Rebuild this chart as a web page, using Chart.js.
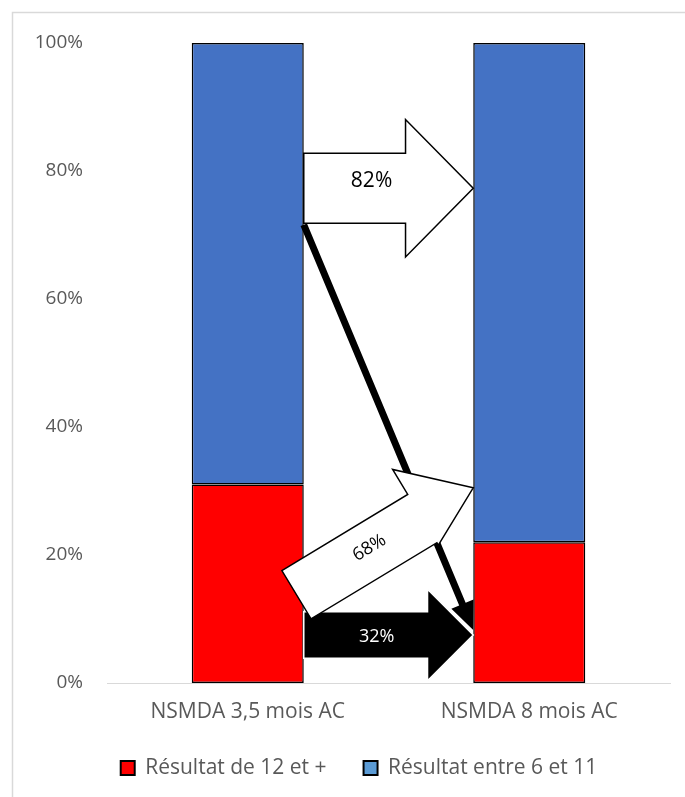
<!DOCTYPE html>
<html>
<head>
<meta charset="utf-8">
<script src="https://cdn.jsdelivr.net/npm/chart.js@4/dist/chart.umd.min.js"></script>
<style>
  html, body { margin: 0; padding: 0; background: #fff; }
  #wrap { width: 685px; height: 797px; position: relative; }
</style>
</head>
<body>
<div id="wrap"><canvas id="c"></canvas></div>
<script>
// Categories, series and tick values
const categories = ['NSMDA 3,5 mois AC', 'NSMDA 8 mois AC'];
const seriesNames = ['Résultat de 12 et +', 'Résultat entre 6 et 11'];
const score12plus = [31, 22];
const score6to11 = [69, 78];
const yTicks = [0, 20, 40, 60, 80, 100];
const transitionLabels = ['82%', '68%', '32%'];

const BAR_COLORS = ['#FF0000', '#4472C4'];
const LEGEND_COLORS = ['#FF0000', '#5B9BD5'];
const TEXT_GREY = '#595959';
const FONT = '"Open Sans", "Liberation Sans", sans-serif';
const BAR_PCT = 0.398;
const EDGE = BAR_PCT / 2;          // half bar width, in category units

// Transition arrows between the two bars, anchored in [category, %] space.
// Widths are in pixels: shaft thickness, head barbs (left / right of travel) and head length.
const arrows = [
  { from: [EDGE, 71.6], to: [1 - EDGE, 8.3], shaft: 7, headL: 12, headR: 12, headLen: 28,
    fill: '#000', stroke: null },
  { from: [EDGE, 7.5], to: [1 - EDGE, 7.5], shaft: 46.6, headL: 45.8, headR: 45.8, headLen: 45.7,
    fill: '#000', stroke: '#fff', label: transitionLabels[2], t: 0.43, off: -2, color: '#fff', size: 18 },
  { from: [0.173, 13.8], to: [1 - EDGE, 30.5], shaft: 56.4, headL: 57.4, headR: 31, headLen: 59.5,
    fill: '#fff', stroke: '#000', label: transitionLabels[1], t: 0.42, off: 2.3, color: '#000', size: 18, rotate: true },
  { from: [EDGE, 77.3], to: [1 - EDGE, 77.3], shaft: 70, headL: 68.7, headR: 68.7, headLen: 67.7,
    fill: '#fff', stroke: '#000', label: transitionLabels[0], t: 0.40, off: 7.5, color: '#000', size: 21 }
];

const frame = {
  id: 'frame',
  afterLayout(chart) {
    // centre the legend under the full chart frame rather than the padded box
    const lg = chart.legend;
    if (lg) { lg.left += 9; lg.right += 9; }
  },
  beforeDraw(chart) {
    const ctx = chart.ctx;
    ctx.save();
    ctx.fillStyle = '#fff';
    ctx.fillRect(0, 0, chart.width, chart.height);
    ctx.strokeStyle = '#d9d9d9';
    ctx.lineWidth = 1.5;
    ctx.strokeRect(12.5, 12.5, chart.width + 20, chart.height + 20);
    ctx.restore();
  }
};

const transitions = {
  id: 'transitions',
  afterDatasetsDraw(chart) {
    const { ctx, scales: { x, y } } = chart;
    const px = p => ({ x: x.getPixelForValue(p[0]), y: y.getPixelForValue(p[1]) });
    ctx.save();
    arrows.forEach(a => {
      const p0 = px(a.from), p1 = px(a.to);
      const dx = p1.x - p0.x, dy = p1.y - p0.y, len = Math.hypot(dx, dy);
      const u = { x: dx / len, y: dy / len };
      const n = { x: u.y, y: -u.x };          // left of travel direction
      const base = { x: p1.x - u.x * a.headLen, y: p1.y - u.y * a.headLen };
      const at = (p, k) => [p.x + n.x * k, p.y + n.y * k];
      const pts = [
        at(p0, a.shaft / 2), at(base, a.shaft / 2), at(base, a.headL),
        [p1.x, p1.y],
        at(base, -a.headR), at(base, -a.shaft / 2), at(p0, -a.shaft / 2)
      ];
      ctx.beginPath();
      pts.forEach((q, i) => i ? ctx.lineTo(q[0], q[1]) : ctx.moveTo(q[0], q[1]));
      ctx.closePath();
      ctx.fillStyle = a.fill;
      ctx.fill();
      if (a.stroke) {
        ctx.strokeStyle = a.stroke;
        ctx.lineWidth = 1.5;
        ctx.lineJoin = 'miter';
        ctx.stroke();
      }
      if (a.label) {
        const c = { x: p0.x + dx * a.t + n.x * a.off, y: p0.y + dy * a.t + n.y * a.off };
        ctx.save();
        ctx.translate(c.x, c.y);
        if (a.rotate) ctx.rotate(Math.atan2(dy, dx));
        ctx.fillStyle = a.color;
        ctx.font = `${a.size}px ${FONT}`;
        ctx.textAlign = 'center';
        ctx.textBaseline = 'middle';
        ctx.fillText(a.label, 0, 0);
        ctx.restore();
      }
    });
    ctx.restore();
  }
};

new Chart(document.getElementById('c'), {
  type: 'bar',
  data: {
    labels: categories,
    datasets: [
      { label: seriesNames[0], data: score12plus, backgroundColor: BAR_COLORS[0] },
      { label: seriesNames[1], data: score6to11, backgroundColor: BAR_COLORS[1] }
    ].map(d => Object.assign(d, {
      borderColor: '#000', borderWidth: 1.5, borderSkipped: false,
      barPercentage: BAR_PCT, categoryPercentage: 1
    }))
  },
  options: {
    responsive: true,
    maintainAspectRatio: false,
    animation: false,
    devicePixelRatio: 1,
    layout: { padding: { left: 30, right: 15, top: 43, bottom: 8.5 } },
    scales: {
      x: {
        stacked: true,
        afterFit(scale) { scale.height = 37.5; },
        grid: { display: false, drawTicks: false },
        border: { display: true, color: '#d9d9d9', width: 1 },
        ticks: { color: TEXT_GREY, font: { family: FONT, size: 21 }, padding: 16 }
      },
      y: {
        stacked: true,
        min: 0,
        max: 100,
        afterFit(scale) { scale.width = 77; },
        afterBuildTicks(scale) { scale.ticks = yTicks.map(v => ({ value: v })); },
        grid: { display: false, drawTicks: false },
        border: { display: false },
        ticks: { color: TEXT_GREY, font: { family: FONT, size: 19 }, padding: 24, callback: v => v + '%' }
      }
    },
    plugins: {
      tooltip: { enabled: false },
      legend: {
        position: 'bottom',
        labels: {
          color: TEXT_GREY,
          font: { family: FONT, size: 21 },
          boxWidth: 14,
          boxHeight: 14,
          padding: 37,
          generateLabels: chart => chart.data.datasets.map((ds, i) => ({
            text: ds.label, fillStyle: LEGEND_COLORS[i], strokeStyle: '#000',
            lineWidth: 2, hidden: false, datasetIndex: i, fontColor: TEXT_GREY
          }))
        }
      }
    }
  },
  plugins: [frame, transitions]
});
</script>
</body>
</html>
